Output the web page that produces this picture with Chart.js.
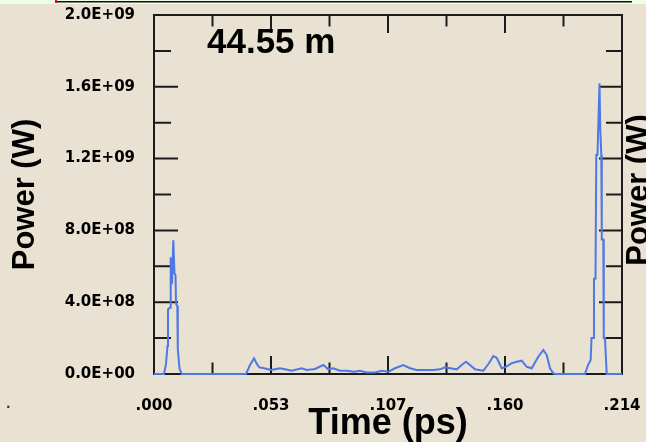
<!DOCTYPE html>
<html><head><meta charset="utf-8">
<script src="https://cdn.jsdelivr.net/npm/chart.js@4/dist/chart.umd.min.js"></script>
<style>
html,body{margin:0;padding:0;background:#e9e2d3;}
#wrap{position:relative;width:646px;height:442px;overflow:hidden;}
canvas{display:block;}
</style></head><body>
<div id="wrap"><canvas id="c" width="646" height="442"></canvas></div>
<script>
const titleText = '44.55 m';
const xAxisTitle = 'Time (ps)';
const yAxisTitle = 'Power (W)';
const xTickValues = [0, 0.0535, 0.107, 0.1605, 0.214];
const xTickLabels = ['.000', '.053', '.107', '.160', '.214'];
const yTickValues = [0, 4e8, 8e8, 1.2e9, 1.6e9, 2.0e9];
const yTickLabels = ['0.0E+00', '4.0E+08', '8.0E+08', '1.2E+09', '1.6E+09', '2.0E+09'];

const timePs = [
  0, 0.00457, 0.00549, 0.00617, 0.00640, 0.00732, 0.00764, 0.00823, 0.00883, 0.00937,
  0.00983, 0.01006, 0.01065, 0.01088, 0.01166, 0.01267,
  0.04207, 0.04390, 0.04573, 0.04710, 0.04815, 0.04984, 0.05350, 0.05761, 0.05990, 0.06297,
  0.06754, 0.06982, 0.07362, 0.07741, 0.07970, 0.08199, 0.08505, 0.08811, 0.09145, 0.09420,
  0.09726, 0.10105, 0.10412, 0.10714, 0.11020, 0.11400, 0.11706, 0.12012, 0.12314, 0.12771,
  0.13078, 0.13306, 0.13535, 0.13841, 0.14070, 0.14266, 0.14449, 0.14678, 0.15057, 0.15318,
  0.15515, 0.15670, 0.15899, 0.16096, 0.16357, 0.16585, 0.16814, 0.17043, 0.17272, 0.17573,
  0.17802, 0.17958, 0.18107, 0.18258, 0.18336,
  0.19708, 0.19845, 0.19968, 0.20005, 0.20097, 0.20119, 0.20188, 0.20224, 0.20279, 0.20371,
  0.20407, 0.20453, 0.20476, 0.20545, 0.20567, 0.20622, 0.20700, 0.21400
];
const powerW = [
  0, 0, 5.6e7, 1.56e8, 3.6e8, 3.7e8, 6.5e8, 5.0e8, 7.45e8, 5.6e8,
  5.5e8, 3.9e8, 3.8e8, 1.4e8, 3.0e7, 0,
  0, 5.0e7, 8.7e7, 5.5e7, 3.7e7, 3.3e7, 2.2e7, 3.2e7, 2.6e7, 1.8e7,
  3.2e7, 2.2e7, 2.8e7, 5.0e7, 2.6e7, 3.2e7, 1.8e7, 1.8e7, 1.2e7, 1.8e7,
  9.0e6, 9.0e6, 1.8e7, 1.3e7, 3.2e7, 5.0e7, 3.2e7, 2.2e7, 2.2e7, 2.2e7,
  2.6e7, 3.7e7, 3.2e7, 2.6e7, 5.0e7, 6.8e7, 5.0e7, 2.6e7, 1.8e7, 6.0e7,
  1.0e8, 9.0e7, 3.2e7, 4.0e7, 6.0e7, 6.8e7, 7.4e7, 4.0e7, 3.2e7, 9.6e7,
  1.34e8, 1.06e8, 3.2e7, 4.0e6, 0,
  0, 5.0e7, 7.8e7, 2.0e8, 2.0e8, 5.3e8, 5.3e8, 1.22e9, 1.22e9, 1.62e9,
  1.36e9, 1.22e9, 7.5e8, 7.5e8, 2.0e8, 2.0e8, 0, 0
];

const BG = '#e9e2d3';
const INK = '#1b1b1b';

const framePlugin = {
  id: 'frame',
  beforeDraw(chart) {
    const ctx = chart.ctx;
    ctx.save();
    ctx.fillStyle = BG;
    ctx.fillRect(0, 0, chart.width, chart.height);
    ctx.fillStyle = '#eefce8';
    ctx.fillRect(0, 0, chart.width, 4);
    ctx.fillStyle = '#111';
    ctx.fillRect(56, 1, 576, 1.5);
    ctx.fillStyle = '#d01010';
    ctx.fillRect(55, 0, 2, 3);
    ctx.restore();
  },
  beforeDatasetsDraw(chart) {
    const {ctx, chartArea: a, scales: {x, y}} = chart;
    ctx.save();
    ctx.strokeStyle = INK;
    ctx.lineWidth = 2;
    ctx.strokeRect(a.left, a.top, a.right - a.left, a.bottom - a.top);
    ctx.beginPath();
    const seg = (x1, y1, x2, y2) => { ctx.moveTo(x1, y1); ctx.lineTo(x2, y2); };
    for (let i = 0; i < yTickValues.length; i++) {
      const py = y.getPixelForValue(yTickValues[i]);
      seg(a.left, py, a.left + 24, py);
      seg(a.right, py, a.right - 23, py);
      if (i < yTickValues.length - 1) {
        const pm = y.getPixelForValue((yTickValues[i] + yTickValues[i + 1]) / 2);
        seg(a.left, pm, a.left + 17, pm);
        seg(a.right, pm, a.right - 16, pm);
      }
    }
    for (let i = 0; i < xTickValues.length; i++) {
      const px = x.getPixelForValue(xTickValues[i]);
      seg(px, a.top, px, a.top + 18);
      seg(px, a.bottom, px, a.bottom - 18);
      if (i < xTickValues.length - 1) {
        const pm = x.getPixelForValue((xTickValues[i] + xTickValues[i + 1]) / 2);
        seg(pm, a.top, pm, a.top + 11.5);
        seg(pm, a.bottom, pm, a.bottom - 11.5);
      }
    }
    ctx.stroke();
    ctx.restore();
  },
  afterDraw(chart) {
    const ctx = chart.ctx;
    ctx.save();
    ctx.fillStyle = '#000';
    ctx.font = 'bold 35px "Liberation Sans", Arial, sans-serif';
    ctx.textAlign = 'left';
    ctx.textBaseline = 'alphabetic';
    ctx.fillText(titleText, 207, 53);
    // clipped right-hand axis title
    ctx.translate(648, 190);
    ctx.rotate(-Math.PI / 2);
    ctx.font = 'bold 31px "Liberation Sans", Arial, sans-serif';
    ctx.textAlign = 'center';
    ctx.fillText(yAxisTitle, 0, 0);
    ctx.restore();
    ctx.save();
    ctx.fillStyle = '#333';
    ctx.font = 'bold 12px "DejaVu Sans", sans-serif';
    ctx.fillText('.', 6, 408);
    ctx.restore();
  }
};

const tickFont = {family: '"DejaVu Sans", sans-serif', weight: 'bold', size: 15};

new Chart(document.getElementById('c'), {
  type: 'line',
  data: {
    datasets: [{
      data: timePs.map((t, i) => ({x: t, y: powerW[i]})),
      borderColor: '#4d78e6',
      borderWidth: 2,
      pointRadius: 0,
      tension: 0,
      fill: false,
      clip: 4
    }]
  },
  options: {
    responsive: false,
    animation: false,
    devicePixelRatio: 1,
    layout: {padding: {top: 15, right: 24, bottom: 0, left: 0}},
    plugins: {legend: {display: false}, tooltip: {enabled: false}, title: {display: false}},
    scales: {
      x: {
        type: 'linear', min: 0, max: 0.214,
        grid: {display: false, drawTicks: false},
        border: {display: false},
        afterBuildTicks: s => { s.ticks = xTickValues.map(v => ({value: v})); },
        afterFit: s => { s.height = 68; s.paddingLeft = 0; s.paddingRight = 0; },
        ticks: {
          autoSkip: false, maxRotation: 0, minRotation: 0, padding: 23,
          color: '#000', font: tickFont,
          callback: (v) => xTickLabels[xTickValues.indexOf(v)]
        },
        title: {
          display: true, text: xAxisTitle, color: '#000',
          font: {family: '"Liberation Sans", Arial, sans-serif', weight: 'bold', size: 36, lineHeight: 1},
          padding: {top: 0, bottom: 0}
        }
      },
      y: {
        type: 'linear', min: 0, max: 2.0e9,
        grid: {display: false, drawTicks: false},
        border: {display: false},
        afterBuildTicks: s => { s.ticks = yTickValues.map(v => ({value: v})); },
        afterFit: s => { s.width = 154; s.paddingTop = 0; s.paddingBottom = 0; },
        ticks: {
          autoSkip: false, padding: 19, color: '#000', font: tickFont,
          callback: (v) => yTickLabels[yTickValues.indexOf(v)]
        },
        title: {
          display: true, text: yAxisTitle, color: '#000',
          font: {family: '"Liberation Sans", Arial, sans-serif', weight: 'bold', size: 31, lineHeight: 1.2},
          padding: {top: 7, bottom: 0}
        }
      }
    }
  },
  plugins: [framePlugin]
});
</script>
</body></html>
